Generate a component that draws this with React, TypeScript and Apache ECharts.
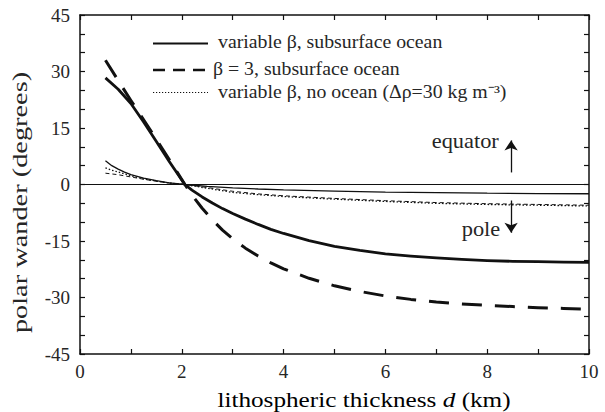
import React, { useEffect, useRef } from "react";
import * as echarts from "echarts";

// ---- data ----
const thickSolidX = [0.5, 0.75, 1.0, 1.25, 1.5, 1.75, 2.0, 2.06, 2.2, 2.4, 2.6, 2.8, 3.0, 3.25, 3.5, 3.75, 4.0, 4.5, 5.0, 5.5, 6.0, 6.5, 7.0, 7.5, 8.0, 8.5, 9.0, 9.5, 10];
const thickSolidY = [28.3, 25.3, 21.5, 16.6, 11.4, 6.2, 1.2, 0, -1.5, -3.3, -4.9, -6.4, -7.7, -9.2, -10.6, -11.9, -13.0, -14.9, -16.4, -17.5, -18.4, -19.0, -19.5, -19.9, -20.2, -20.4, -20.5, -20.6, -20.7];

const thickDashX = [0.5, 0.75, 1.0, 1.25, 1.5, 1.75, 2.0, 2.06, 2.2, 2.4, 2.6, 2.8, 3.0, 3.25, 3.5, 3.75, 4.0, 4.5, 5.0, 5.5, 6.0, 6.5, 7.0, 7.5, 8.0, 8.5, 9.0, 9.5, 10];
const thickDashY = [33.0, 27.6, 22.3, 17.2, 12.0, 6.7, 1.3, 0, -2.8, -6.3, -9.4, -12.1, -14.4, -16.9, -19.0, -20.8, -22.4, -24.9, -26.9, -28.4, -29.6, -30.5, -31.2, -31.7, -32.1, -32.4, -32.7, -32.9, -33.1];

const thinX = [0.5, 0.625, 0.75, 0.875, 1.0, 1.25, 1.5, 1.75, 2.06, 2.5, 3.0, 3.5, 4.0, 5.0, 6.0, 7.0, 8.0, 9.0, 10];
const thinSolidY = [6.3, 5.0, 4.1, 3.3, 2.6, 1.7, 1.0, 0.45, 0, -0.5, -0.9, -1.2, -1.45, -1.75, -2.0, -2.15, -2.3, -2.4, -2.45];
const dottedY = [4.4, 3.8, 3.3, 2.8, 2.3, 1.5, 0.9, 0.4, 0, -1.0, -2.1, -2.7, -3.2, -3.9, -4.5, -5.0, -5.3, -5.5, -5.7];
const thinDashY = [3.0, 2.8, 2.6, 2.3, 2.0, 1.4, 0.85, 0.4, 0, -0.8, -1.8, -2.5, -3.0, -3.7, -4.3, -4.8, -5.1, -5.3, -5.5];

const xTickLabels = [0, 2, 4, 6, 8, 10];
const yTickLabels = [-45, -30, -15, 0, 15, 30, 45];

const legendLabels = [
  "variable β, subsurface ocean",
  "β = 3, subsurface ocean",
  "variable β, no ocean (Δρ=30 kg m⁻³)",
];

const arrowX = 8.47;
const equatorArrow = [3.2, 11.7];
const poleArrow = [-4.25, -12.8];

const FONT = "Liberation Serif, Times New Roman, serif";
const INK = "#111";
const TEXT = "#262626";

const zip = (xs: number[], ys: number[]) => xs.map((x, i) => [x, ys[i]]);

export default function App() {
  const ref = useRef<HTMLDivElement>(null);

  useEffect(() => {
    if (!ref.current) return;
    const chart = echarts.init(ref.current, undefined, { renderer: "svg" });

    const axisCommon = {
      type: "value" as const,
      axisLine: { show: true, onZero: false, lineStyle: { color: INK, width: 1.5 } },
      axisTick: { show: true, inside: true, length: 5, lineStyle: { color: INK, width: 1.2 } },
      splitLine: { show: false },
    };

    const textStyle = (size: number) => ({
      fontFamily: FONT,
      fontSize: size,
      fontWeight: "normal" as const,
      fill: TEXT,
    });

    chart.setOption({
      animation: false,
      backgroundColor: "#ffffff",
      grid: { left: 80, right: 16, top: 15, bottom: 58, containLabel: false, outerBoundsMode: "none" },
      xAxis: [
        {
          ...axisCommon,
          min: 0,
          max: 10,
          interval: 1,
          position: "bottom",
          axisLabel: {
            formatter: (v: number) => (xTickLabels.includes(v) ? String(v) : ""),
            fontFamily: FONT,
            fontSize: 19,
            color: TEXT,
            margin: 8,
          },
        },
        {
          ...axisCommon,
          min: 0,
          max: 10,
          interval: 1,
          position: "top",
          axisLabel: { show: false },
        },
      ],
      yAxis: [
        {
          ...axisCommon,
          min: -45,
          max: 45,
          interval: 5,
          position: "left",
          axisLabel: {
            formatter: (v: number) => (yTickLabels.includes(v) ? String(v) : ""),
            fontFamily: FONT,
            fontSize: 19,
            color: TEXT,
            margin: 10,
            padding: [6, 0, 0, 0],
          },
        },
        {
          ...axisCommon,
          min: -45,
          max: 45,
          interval: 5,
          position: "right",
          axisLabel: { show: false },
        },
      ],
      series: [
        {
          name: "thin solid",
          type: "line",
          data: zip(thinX, thinSolidY),
          symbol: "none",
          lineStyle: { color: INK, width: 1.3 },
          markLine: {
            silent: true,
            symbol: "none",
            label: { show: false },
            lineStyle: { color: INK, width: 1, type: "solid" },
            data: [{ yAxis: 0 }],
          },
        },
        {
          name: "dotted",
          type: "line",
          data: zip(thinX, dottedY),
          symbol: "none",
          lineStyle: { color: INK, width: 1.3, type: [1.5, 2] },
          markLine: {
            silent: true,
            label: { show: false },
            lineStyle: { color: INK, width: 1.3, type: "solid" },
            data: [
              [
                { coord: [arrowX, equatorArrow[0]], symbol: "none" },
                { coord: [arrowX, equatorArrow[1]], symbol: "arrow", symbolSize: 10 },
              ],
              [
                { coord: [arrowX, poleArrow[0]], symbol: "none" },
                { coord: [arrowX, poleArrow[1]], symbol: "arrow", symbolSize: 10 },
              ],
            ],
          },
        },
        {
          name: "thin dashed",
          type: "line",
          data: zip(thinX, thinDashY),
          symbol: "none",
          lineStyle: { color: INK, width: 1, type: [4, 3] },
        },
        {
          name: legendLabels[0],
          type: "line",
          data: zip(thickSolidX, thickSolidY),
          symbol: "none",
          lineStyle: { color: INK, width: 2.8, join: "round" },
        },
        {
          name: legendLabels[1],
          type: "line",
          data: zip(thickDashX, thickDashY),
          symbol: "none",
          lineStyle: { color: INK, width: 3, type: [20, 13], join: "round" },
        },
      ],
      graphic: [
        // legend
        { type: "line", shape: { x1: 153, y1: 43.5, x2: 208, y2: 43.5 }, style: { stroke: INK, lineWidth: 2 } },
        { type: "line", shape: { x1: 153, y1: 70, x2: 208, y2: 70 }, style: { stroke: INK, lineWidth: 2.5, lineDash: [12, 8] } },
        { type: "line", shape: { x1: 153, y1: 92.5, x2: 208, y2: 92.5 }, style: { stroke: INK, lineWidth: 1.2, lineDash: [1.2, 1.8] } },
        {
          type: "text", x: 218, y: 41.5, scaleX: 1.1,
          style: { text: legendLabels[0], ...textStyle(18), textAlign: "left", textVerticalAlign: "middle" },
        },
        {
          type: "text", x: 213, y: 68.5, scaleX: 1.1,
          style: { text: legendLabels[1], ...textStyle(18), textAlign: "left", textVerticalAlign: "middle" },
        },
        {
          type: "text", x: 218, y: 91.5, scaleX: 1.1,
          style: { text: legendLabels[2], ...textStyle(18), textAlign: "left", textVerticalAlign: "middle" },
        },
        // annotations
        {
          type: "text", x: 431.7, y: 141.5, scaleX: 1.12,
          style: { text: "equator", ...textStyle(20), textAlign: "left", textVerticalAlign: "middle" },
        },
        {
          type: "text", x: 461.7, y: 229, scaleX: 1.12,
          style: { text: "pole", ...textStyle(20), textAlign: "left", textVerticalAlign: "middle" },
        },
        // axis titles
        {
          type: "text", x: 364, y: 400, scaleX: 1.2,
          style: {
            text: "{a|lithospheric thickness }{i|d}{a| (km)}",
            textAlign: "center",
            textVerticalAlign: "middle",
            rich: {
              a: { fontFamily: FONT, fontSize: 21, fontWeight: "normal", color: TEXT },
              i: { fontFamily: FONT, fontSize: 21, fontStyle: "italic", fontWeight: "normal", color: TEXT },
            },
          },
        },
        {
          type: "text", x: 19.6, y: 202.5, rotation: Math.PI / 2, scaleX: 1.35,
          style: { text: "polar wander (degrees)", ...textStyle(21), textAlign: "center", textVerticalAlign: "middle" },
        },
      ],
    });

    return () => chart.dispose();
  }, []);

  return (
    <div
      ref={ref}
      style={{ position: "fixed", left: 0, top: 0, width: 605, height: 412, background: "#fff" }}
    />
  );
}
